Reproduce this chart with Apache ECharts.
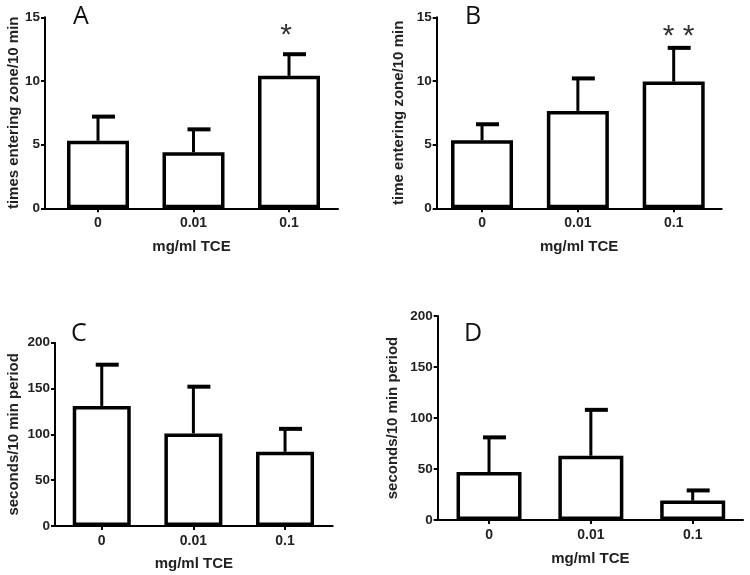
<!DOCTYPE html>
<html>
<head>
<meta charset="utf-8">
<script src="https://cdn.jsdelivr.net/npm/echarts@6/dist/echarts.min.js"></script>
<style>html,body{margin:0;padding:0;background:#fff;}#c{width:750px;height:575px;}</style>
</head>
<body>
<div id="c"></div>
<script>
// ---- data ----
const categories = ['0', '0.01', '0.1'];
const xTitle = 'mg/ml TCE';

const panelLetters = ['A', 'B', 'C', 'D'];
const yTitles = ['times entering zone/10 min', 'time entering zone/10 min', 'seconds/10 min period', 'seconds/10 min period'];

const meanA = [5.3, 4.4, 10.4];
const errTopA = [7.2, 6.2, 12.1];
const meanB = [5.35, 7.65, 9.95];
const errTopB = [6.6, 10.2, 12.6];
const meanC = [131, 101, 81];
const errTopC = [176, 152, 106];
const meanD = [47, 63, 19];
const errTopD = [81, 108, 29];

const sigA = ['', '', '*'];
const sigB = ['', '', '* *'];
const sigLevelA = 13.9;
const sigLevelB = 13.8;

const yMaxTop = 15, yIntTop = 5;
const yMaxBottom = 200, yIntBottom = 50;

// ---- layout ----
const panels = [
  {grid: {left: 45, top: 17.3, width: 293, height: 191}, xmin: -0.555, xmax: 2.513, barW: 62, yMax: yMaxTop, yInt: yIntTop, yGap: 22, xGap: 31, mean: meanA, err: errTopA, sig: sigA, sigY: sigLevelA, sigDx: -3},
  {grid: {left: 436.7, top: 17.3, width: 285, height: 191}, xmin: -0.473, xmax: 2.501, barW: 62, yMax: yMaxTop, yInt: yIntTop, yGap: 30, xGap: 31, mean: meanB, err: errTopB, sig: sigB, sigY: sigLevelB, sigDx: 5},
  {grid: {left: 55, top: 342.7, width: 277.7, height: 183.3}, xmin: -0.51, xmax: 2.52, barW: 58, yMax: yMaxBottom, yInt: yIntBottom, yGap: 34, xGap: 30, mean: meanC, err: errTopC},
  {grid: {left: 437.7, top: 316, width: 305.3, height: 204}, xmin: -0.504, xmax: 2.494, barW: 65, yMax: yMaxBottom, yInt: yIntBottom, yGap: 37, xGap: 31, mean: meanD, err: errTopD}
];
const letterPos = [[82, 18], [474, 18], [80, 335], [473, 335]];

const textColor = '#222';
const grids = [], xAxes = [], yAxes = [], series = [], graphics = [];

panels.forEach((p, i) => {
  grids.push(Object.assign({containLabel: false}, p.grid));
  xAxes.push({
    gridIndex: i, type: 'value', min: p.xmin, max: p.xmax,
    name: xTitle, nameLocation: 'middle', nameGap: p.xGap,
    nameTextStyle: {fontFamily: 'Liberation Sans', fontWeight: 'bold', fontSize: 15, color: textColor},
    axisLine: {show: true, onZero: false, lineStyle: {color: '#000', width: 2}},
    axisTick: {show: true, customValues: [0, 1, 2], length: 4, lineStyle: {color: '#000', width: 2}},
    axisLabel: {customValues: [0, 1, 2], formatter: v => categories[Math.round(v)], margin: 8,
      fontFamily: 'Liberation Sans', fontWeight: 'bold', fontSize: 14, color: textColor},
    splitLine: {show: false}
  });
  yAxes.push({
    gridIndex: i, type: 'value', min: 0, max: p.yMax, interval: p.yInt,
    name: yTitles[i], nameLocation: 'middle', nameGap: p.yGap, nameRotate: 90,
    nameTextStyle: {fontFamily: 'Liberation Sans', fontWeight: 'bold', fontSize: 15, color: textColor},
    axisLine: {show: true, onZero: false, lineStyle: {color: '#000', width: 2}},
    axisTick: {show: true, length: 4, lineStyle: {color: '#000', width: 2}},
    axisLabel: {margin: 5, fontFamily: 'Liberation Sans', fontWeight: 'bold', fontSize: 13.5, color: textColor},
    splitLine: {show: false}
  });
  series.push({
    type: 'bar', xAxisIndex: i, yAxisIndex: i, barWidth: p.barW,
    data: p.mean.map((v, k) => [k, v]),
    itemStyle: {color: '#fff', borderColor: '#000', borderWidth: 3.5},
    silent: true, z: 2
  });
  series.push({
    type: 'custom', xAxisIndex: i, yAxisIndex: i, silent: true, z: 3,
    data: p.mean.map((v, k) => [k, v, p.err[k]]),
    encode: {x: 0, y: [1, 2]},
    renderItem: (params, api) => {
      const x = api.value(0);
      const base = api.coord([x, api.value(1)]);
      const top = api.coord([x, api.value(2)]);
      return {type: 'group', children: [
        {type: 'line', shape: {x1: base[0], y1: base[1], x2: top[0], y2: top[1]}, style: {stroke: '#000', lineWidth: 3}},
        {type: 'line', shape: {x1: top[0] - 6, y1: top[1], x2: top[0] + 17, y2: top[1]}, style: {stroke: '#000', lineWidth: 4}}
      ]};
    }
  });
  if (p.sig) {
    series.push({
      type: 'custom', xAxisIndex: i, yAxisIndex: i, silent: true, z: 4,
      data: p.sig.map((s, k) => [k, p.sigY, s]).filter(d => d[2] !== ''),
      encode: {x: 0, y: 1},
      renderItem: (params, api) => {
        const pt = api.coord([api.value(0), api.value(1)]);
        const d = p.sig.filter(s => s !== '')[params.dataIndex];
        return {type: 'text', style: {x: pt[0] + p.sigDx, y: pt[1] + 4, text: d, align: 'center', verticalAlign: 'middle',
          fontFamily: 'Liberation Sans', fontSize: 30, fill: '#333'}};
      }
    });
  }
  graphics.push({type: 'text', left: letterPos[i][0] - 9, top: letterPos[i][1] - 14,
    style: {text: panelLetters[i], fontFamily: 'Open Sans', fontSize: 25, fill: '#111'}});
});

const chart = echarts.init(document.getElementById('c'), null, {renderer: 'canvas'});
chart.setOption({
  backgroundColor: '#fff',
  animation: false,
  grid: grids, xAxis: xAxes, yAxis: yAxes, series: series, graphic: graphics
});
</script>
</body>
</html>
